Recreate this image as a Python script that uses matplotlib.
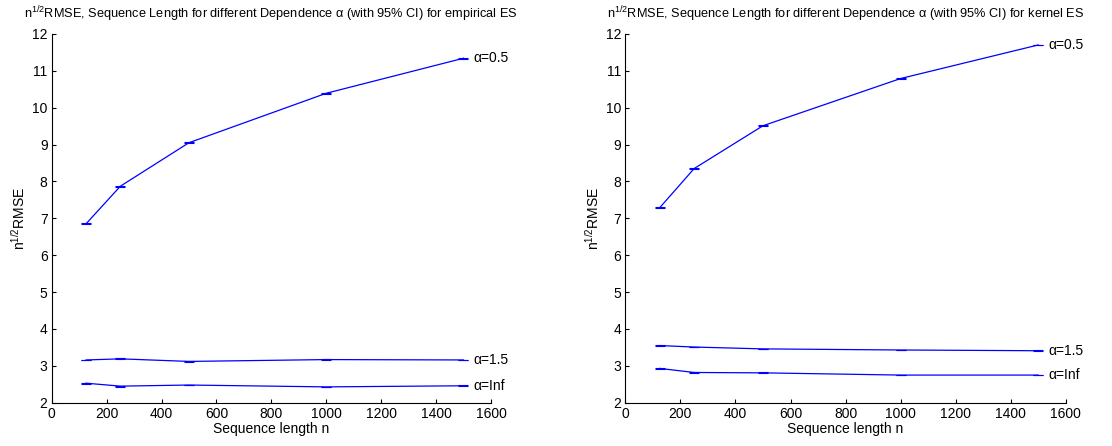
import matplotlib
matplotlib.use("Agg")
import matplotlib.pyplot as plt

plt.rcParams["font.family"] = ["Liberation Sans", "DejaVu Sans"]
plt.rcParams["mathtext.default"] = "regular"
plt.rcParams["font.size"] = 10

n = [125, 250, 500, 1000, 1500]
labels = ["α=0.5", "α=1.5", "α=Inf"]

# empirical ES
emp_a05 = [6.85, 7.87, 9.05, 10.39, 11.34]
emp_a15 = [3.16, 3.19, 3.12, 3.17, 3.16]
emp_inf = [2.53, 2.45, 2.48, 2.43, 2.46]

# kernel ES
ker_a05 = [7.29, 8.35, 9.51, 10.79, 11.70]
ker_a15 = [3.55, 3.51, 3.46, 3.43, 3.41]
ker_inf = [2.93, 2.82, 2.81, 2.75, 2.75]

ci = 0.01  # half width of the 95% CI, too small to see

panels = [
    ("empirical ES", [emp_a05, emp_a15, emp_inf]),
    ("kernel ES", [ker_a05, ker_a15, ker_inf]),
]

fig = plt.figure(figsize=(11.12, 4.46), dpi=100)
positions = [[0.0465, 0.097, 0.395, 0.827], [0.5624, 0.097, 0.396, 0.827]]

for pos, (name, series) in zip(positions, panels):
    ax = fig.add_axes(pos)
    for vals, lab in zip(series, labels):
        ax.errorbar(n, vals, yerr=ci, color="blue", lw=0.9, elinewidth=0.8,
                    capsize=3.5, capthick=0.8)
        ax.annotate(lab, (n[-1], vals[-1]), xytext=(7, 0), textcoords="offset points",
                    va="center", ha="left", fontsize=10)
    ax.set_xlim(0, 1600)
    ax.set_ylim(2, 12)
    ax.set_xticks(range(0, 1601, 200))
    ax.set_yticks(range(2, 13))
    ax.tick_params(direction="in", length=3, width=0.8, labelsize=10, pad=3)
    ax.spines["top"].set_visible(False)
    ax.spines["right"].set_visible(False)
    ax.set_xlabel("Sequence length n", labelpad=1)
    ax.set_ylabel("n$^{1/2}$RMSE", labelpad=3)
    ax.set_title("n$^{1/2}$RMSE, Sequence Length for different Dependence α "
                 "(with 95% CI) for " + name, fontsize=9.2, pad=11)

fig.savefig("out.png", dpi=100)
